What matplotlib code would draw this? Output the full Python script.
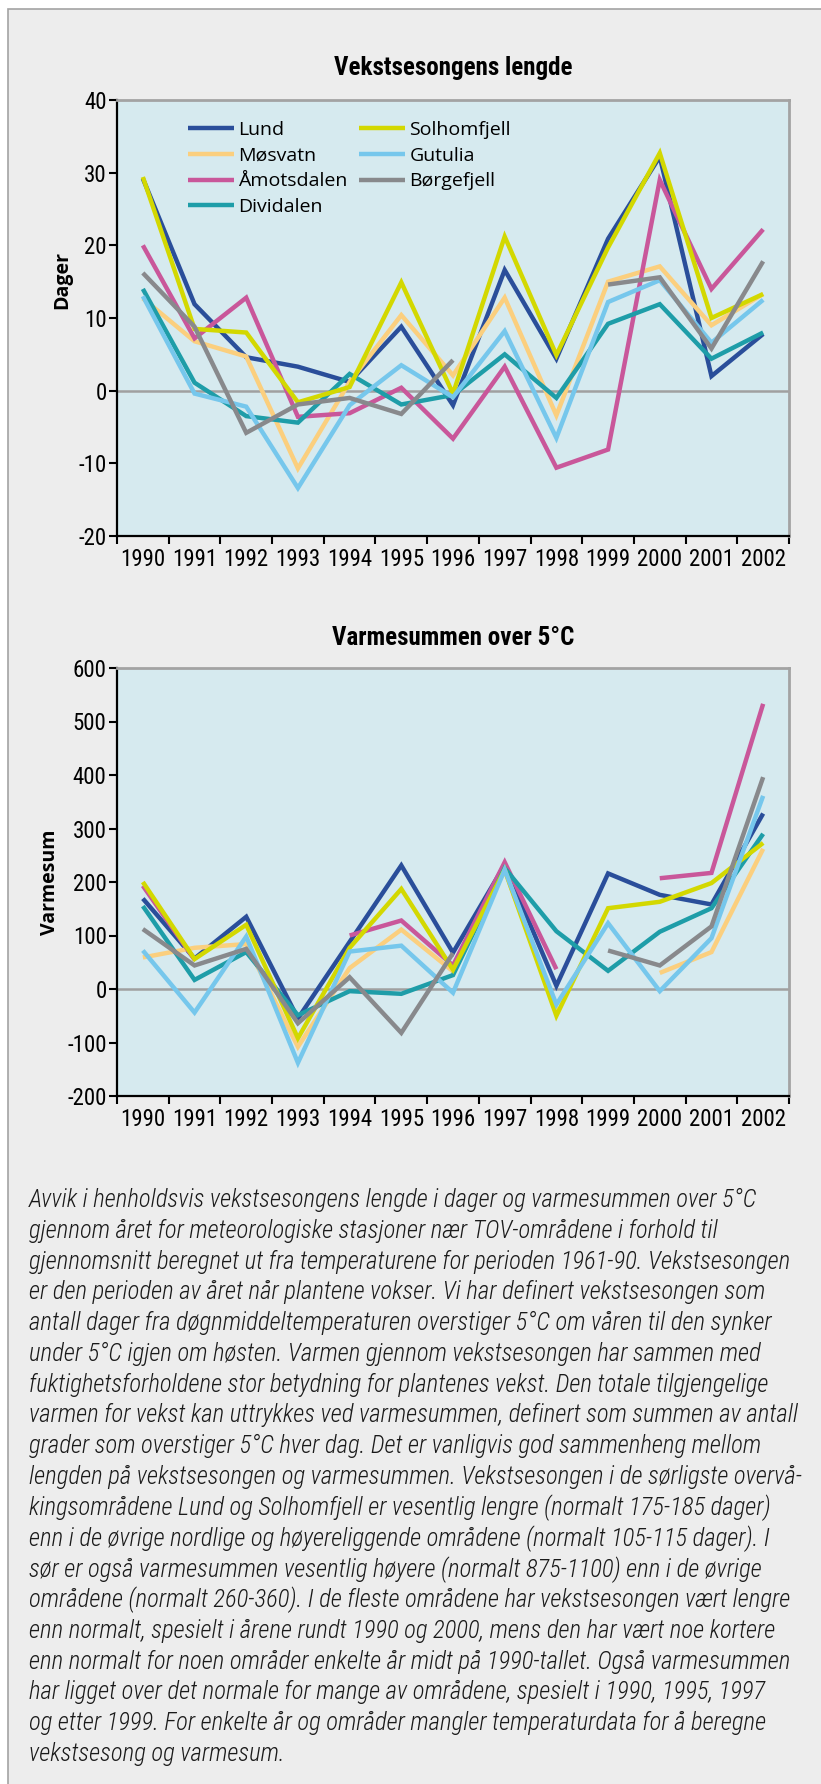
import numpy as np
import matplotlib
matplotlib.use("Agg")
import matplotlib.pyplot as plt
from matplotlib.patches import Rectangle
from matplotlib import font_manager

nan = np.nan
years = ["1990", "1991", "1992", "1993", "1994", "1995", "1996",
         "1997", "1998", "1999", "2000", "2001", "2002"]
stations = ["Lund", "Møsvatn", "Åmotsdalen", "Dividalen",
            "Solhomfjell", "Gutulia", "Børgefjell"]
colors = ["#2A4E9A", "#FBCF7E", "#C9579A", "#1E9DA8",
          "#D3D800", "#76C7EC", "#88898C"]

# Vekstsesongens lengde (dager)
dager_lund = [29.2, 11.9, 4.6, 3.3, 1.2, 8.8, -2.0, 16.6, 4.4, 20.9, 32.2, 2.0, 7.8]
dager_mosvatn = [12.7, 6.8, 4.7, -10.7, 1.2, 10.4, 2.1, 12.8, -3.4, 15.0, 17.1, 9.0, 13.3]
dager_amotsdalen = [20.0, 7.2, 12.8, -3.6, -3.1, 0.4, -6.6, 3.3, -10.6, -8.1, 29.0, 14.0, 22.2]
dager_dividalen = [14.0, 1.1, -3.5, -4.4, 2.3, -1.9, -0.6, 5.0, -1.0, 9.2, 11.9, 4.4, 8.0]
dager_solhomfjell = [29.4, 8.5, 8.0, -1.6, 0.5, 14.9, -0.4, 21.2, 4.9, 19.7, 32.7, 10.0, 13.3]
dager_gutulia = [13.0, -0.4, -2.2, -13.4, -2.0, 3.5, -0.9, 8.2, -6.5, 12.2, 15.2, 6.6, 12.5]
dager_borgefjell = [16.2, 8.8, -5.8, -1.9, -1.0, -3.2, 4.2, nan, nan, 14.6, 15.6, 5.8, 17.8]

# Varmesummen over 5 °C
varme_lund = [169, 57, 135, -55, 88, 231, 68, 232, 6, 216, 176, 158, 328]
varme_mosvatn = [59, 77, 84, -108, 39, 111, 33, 222, -38, nan, 30, 69, 262]
varme_amotsdalen = [193, 55, nan, nan, 100, 128, 44, 237, 37, nan, 207, 217, 533]
varme_dividalen = [155, 17, 69, -49, -4, -9, 26, 226, 108, 34, 107, 151, 290]
varme_solhomfjell = [200, 56, 120, -92, 77, 187, 36, 223, -50, 151, 163, 198, 273]
varme_gutulia = [72, -44, 98, -138, 70, 81, -7, 223, -29, 123, -4, 95, 361]
varme_borgefjell = [112, 44, 75, -64, 22, -82, 67, nan, nan, 72, 44, 117, 396]

dager = [dager_lund, dager_mosvatn, dager_amotsdalen, dager_dividalen,
         dager_solhomfjell, dager_gutulia, dager_borgefjell]
varme = [varme_lund, varme_mosvatn, varme_amotsdalen, varme_dividalen,
         varme_solhomfjell, varme_gutulia, varme_borgefjell]

caption_lines = [
    "Avvik i henholdsvis vekstsesongens lengde i dager og varmesummen over 5°C",
    "gjennom året for meteorologiske stasjoner nær TOV-områdene i forhold til",
    "gjennomsnitt beregnet ut fra temperaturene for perioden 1961-90. Vekstsesongen",
    "er den perioden av året når plantene vokser. Vi har definert vekstsesongen som",
    "antall dager fra døgnmiddeltemperaturen overstiger 5°C om våren til den synker",
    "under 5°C igjen om høsten. Varmen gjennom vekstsesongen har sammen med",
    "fuktighetsforholdene stor betydning for plantenes vekst. Den totale tilgjengelige",
    "varmen for vekst kan uttrykkes ved varmesummen, definert som summen av antall",
    "grader som overstiger 5°C hver dag. Det er vanligvis god sammenheng mellom",
    "lengden på vekstsesongen og varmesummen. Vekstsesongen i de sørligste overvå-",
    "kingsområdene Lund og Solhomfjell er vesentlig lengre (normalt 175-185 dager)",
    "enn i de øvrige nordlige og høyereliggende områdene (normalt 105-115 dager). I",
    "sør er også varmesummen vesentlig høyere (normalt 875-1100) enn i de øvrige",
    "områdene (normalt 260-360). I de fleste områdene har vekstsesongen vært lengre",
    "enn normalt, spesielt i årene rundt 1990 og 2000, mens den har vært noe kortere",
    "enn normalt for noen områder enkelte år midt på 1990-tallet. Også varmesummen",
    "har ligget over det normale for mange av områdene, spesielt i 1990, 1995, 1997",
    "og etter 1999. For enkelte år og områder mangler temperaturdata for å beregne",
    "vekstsesong og varmesum.",
]

# pick the narrowest installed sans family
_names = {f.name for f in font_manager.fontManager.ttflist}
NARROW_FAMILY = "DejaVu Sans"
for cand in ["Roboto Condensed", "Liberation Sans Narrow", "Open Sans Condensed",
             "Noto Sans Condensed", "DejaVu Sans Condensed", "Roboto"]:
    if cand in _names:
        NARROW_FAMILY = cand
        break
NARROW = [NARROW_FAMILY, "DejaVu Sans"]
NORMAL = ["Open Sans", "DejaVu Sans"]

W, H = 821, 1784
fig = plt.figure(figsize=(W / 100, H / 100), dpi=100)
fig.patch.set_facecolor("white")
bg = Rectangle((8 / W, -0.01), 1.05, 1 - 9 / H + 0.01,
               transform=fig.transFigure, facecolor="#EDEDED",
               edgecolor="#A3A3A3", linewidth=1.2, zorder=-10)
fig.add_artist(bg)

PLOT_BG = "#D6EAEF"


def make_axes(rect, data, ylim, yticks, ylabel, title, title_y, ylabel_xy, legend):
    ax = fig.add_axes(rect)
    ax.set_zorder(1)
    ax.set_facecolor(PLOT_BG)
    x = np.arange(len(years))
    ax.axhline(0, color="#A0A0A0", lw=1.8, zorder=1)
    handles = []
    for vals, c, name in zip(data, colors, stations):
        h, = ax.plot(x, np.array(vals, dtype=float), color=c, lw=3.2,
                     solid_capstyle="butt", solid_joinstyle="miter", label=name, zorder=3)
        handles.append(h)
    ax.set_xlim(-0.5, len(years) - 0.5)
    ax.set_ylim(*ylim)
    ax.set_yticks(yticks)
    ax.set_yticklabels([str(v) for v in yticks], family=NARROW, fontsize=16.5)
    ax.set_xticks(np.arange(-0.5, len(years)), minor=False)
    ax.set_xticklabels([])
    ax.set_xticks(x, minor=True)
    ax.set_xticklabels(years, minor=True, family=NARROW, fontsize=16.5)
    ax.tick_params(axis="x", which="major", direction="out", length=6, width=1.5, color="black")
    ax.tick_params(axis="x", which="minor", length=0, pad=9)
    ax.tick_params(axis="y", direction="out", length=6, width=1.5, color="black", pad=1.5)
    for s in ["left", "bottom"]:
        ax.spines[s].set_color("black")
        ax.spines[s].set_linewidth(1.6)
    for s in ["top", "right"]:
        ax.spines[s].set_color("#A3A3A3")
        ax.spines[s].set_linewidth(2.0)
    fig.text(rect[0] + rect[2] / 2, title_y, title, ha="center", va="center",
             family=NARROW, fontweight="bold", fontsize=18)
    fig.text(ylabel_xy[0], ylabel_xy[1], ylabel, rotation=90, ha="center", va="center",
             family=NORMAL, fontweight="bold", fontsize=14)
    if legend:
        ax.legend(handles=handles, ncol=2, loc="upper left",
                  bbox_to_anchor=(0.105, 0.952), frameon=False,
                  prop={"family": NORMAL, "size": 14},
                  handlelength=2.4, handletextpad=0.22, columnspacing=0.55,
                  labelspacing=0.4, borderpad=0, borderaxespad=0)
    return ax


ax1 = make_axes([117 / W, 1 - 536 / H, 672 / W, 436 / H], dager, (-20, 40),
                [-20, -10, 0, 10, 20, 30, 40], "Dager",
                "Vekstsesongens lengde", 1 - 68 / H, (62 / W, 1 - 280 / H), True)
ax2 = make_axes([117 / W, 1 - 1096 / H, 672 / W, 428 / H], varme, (-200, 600),
                [-200, -100, 0, 100, 200, 300, 400, 500, 600], "Varmesum",
                "Varmesummen over 5°C", 1 - 638 / H, (50 / W, 1 - 882 / H), False)

# caption, fitted to the measured text block width
renderer = fig.canvas.get_renderer()
x0 = 29 / W
y_first = 1200
spacing = (1754 - 1200) / (len(caption_lines) - 1)
texts = []
for i, line in enumerate(caption_lines):
    t = fig.text(x0, 1 - (y_first + i * spacing) / H, line, ha="left", va="center",
                 family=NARROW, style="italic", fontweight="light", fontsize=15,
                 color="#1A1A1A")
    texts.append(t)
widest = max(t.get_window_extent(renderer).width for t in texts)
scale = 772 / widest
for t in texts:
    t.set_fontsize(15 * scale)

fig.savefig("out.png", dpi=100, facecolor=fig.get_facecolor())
